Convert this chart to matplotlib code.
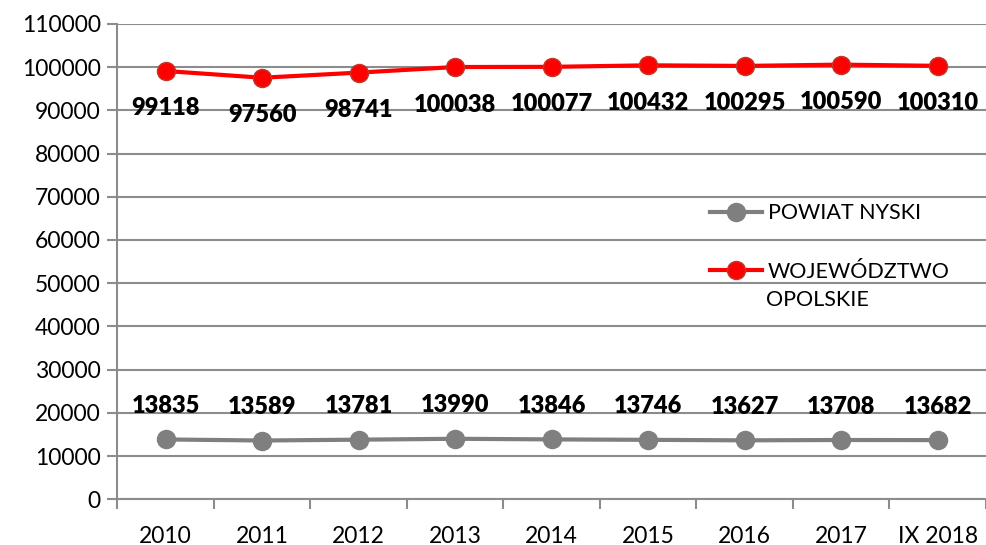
import matplotlib.pyplot as plt

plt.rcParams['font.family'] = ['Lato', 'DejaVu Sans']

years = ["2010", "2011", "2012", "2013", "2014", "2015", "2016", "2017", "IX 2018"]
powiat_nyski = [13835, 13589, 13781, 13990, 13846, 13746, 13627, 13708, 13682]
woj_opolskie = [99118, 97560, 98741, 100038, 100077, 100432, 100295, 100590, 100310]

GRID = "#8c8c8c"
GRAY = "#7f7f7f"
RED = "#ff0000"


def main():
    f, ax = plt.subplots(figsize=(9.86, 5.45), dpi=100)
    f.subplots_adjust(left=0.119, right=1.0, top=0.956, bottom=0.084)

    x = range(len(years))
    ax.plot(x, powiat_nyski, '-o', color=GRAY, lw=3, ms=13,
            mec=GRAY, label="POWIAT NYSKI", zorder=3)
    ax.plot(x, woj_opolskie, '-o', color=RED, lw=3, ms=13,
            mec="#c0392b", mew=1, label="WOJEWÓDZTWO", zorder=3)

    for i, v in enumerate(powiat_nyski):
        ax.annotate(str(v), (i, v), xytext=(0, 24), textcoords='offset points',
                    ha='center', va='center', fontsize=17, fontweight='heavy')
    for i, v in enumerate(woj_opolskie):
        ax.annotate(str(v), (i, v), xytext=(0, -27), textcoords='offset points',
                    ha='center', va='center', fontsize=17, fontweight='heavy')

    ax.set_xlim(-0.5, len(years) - 0.5)
    ax.set_ylim(0, 110000)
    ax.set_yticks(range(0, 110001, 10000))
    ax.set_xticks(x)
    ax.set_xticklabels(years)
    ax.set_xticks([i + 0.5 for i in range(-1, len(years))], minor=True)
    ax.tick_params(axis='x', which='major', length=0, pad=19, labelsize=16.5)
    ax.tick_params(axis='x', which='minor', length=7, width=1.5, color=GRID)
    ax.tick_params(axis='y', length=7, width=1.5, color=GRID, labelsize=16.5, pad=5)

    ax.grid(axis='y', color=GRID, lw=1.5)
    ax.set_axisbelow(True)
    for s in ['top', 'right']:
        ax.spines[s].set_visible(False)
    for s in ['left', 'bottom']:
        ax.spines[s].set_color(GRID)
        ax.spines[s].set_linewidth(1.5)

    ax.legend(loc='upper left', bbox_to_anchor=(0.66, 0.664), frameon=False,
              fontsize=15.5, handlelength=2.4, handletextpad=0.3, labelspacing=1.8)
    ax.text(0.747, 0.419, "OPOLSKIE", transform=ax.transAxes, fontsize=15.5,
            ha='left', va='center')

    f.savefig("out.png", dpi=100)


if __name__ == "__main__":
    main()
